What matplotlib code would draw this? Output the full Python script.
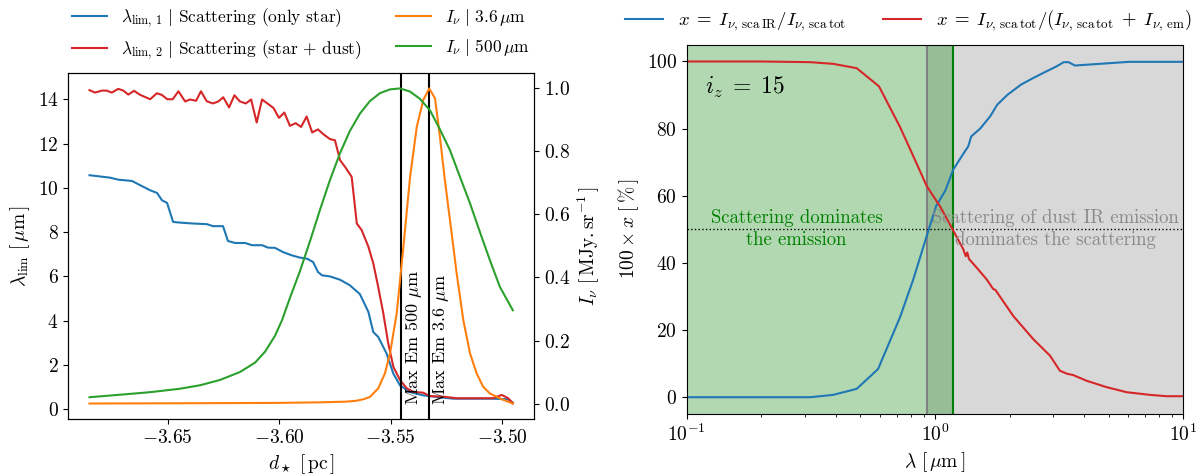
import numpy as np
import matplotlib
matplotlib.use("Agg")
import matplotlib.pyplot as plt
from matplotlib.ticker import MultipleLocator

plt.rcParams.update({
    "font.family": "serif",
    "font.serif": ["cmr10", "DejaVu Serif"],
    "mathtext.fontset": "cm",
    "axes.formatter.use_mathtext": True,
    "font.size": 13,
    "xtick.labelsize": 14,
    "ytick.labelsize": 14,
    "axes.labelsize": 14,
})

# ---- left panel: lambda_lim vs distance to the star ----
d_red = [-3.6851, -3.6826, -3.6796, -3.6774, -3.6751, -3.6722, -3.6699, -3.6677,
         -3.6651, -3.6624, -3.6579, -3.6549, -3.6527, -3.6502, -3.6478, -3.6452,
         -3.6422, -3.6400, -3.6373, -3.6351, -3.6325, -3.6298, -3.6273, -3.6251,
         -3.6225, -3.6201, -3.6176, -3.6150, -3.6126, -3.6101, -3.6077, -3.6053,
         -3.6026, -3.6001, -3.5977, -3.5952, -3.5926, -3.5902, -3.5877, -3.5852,
         -3.5826, -3.5802, -3.5772, -3.5750, -3.5727, -3.5705, -3.5675, -3.5652,
         -3.5630, -3.5600, -3.5578, -3.5556, -3.5533, -3.5511, -3.5488, -3.5458,
         -3.5428, -3.5399, -3.5354, -3.5324, -3.5264, -3.5204, -3.5114, -3.5040,
         -3.5002, -3.4973, -3.4952]
lim2 = [14.41, 14.30, 14.39, 14.39, 14.30, 14.47, 14.39, 14.21,
        14.38, 14.20, 14.00, 14.27, 14.20, 14.00, 14.00, 14.36,
        13.90, 13.99, 13.93, 14.36, 13.91, 13.81, 13.90, 14.09,
        13.63, 14.18, 13.90, 13.81, 13.99, 12.95, 13.99, 13.81,
        13.61, 13.16, 13.40, 12.80, 12.92, 12.75, 13.22, 12.50,
        12.64, 12.42, 12.20, 12.15, 11.25, 10.95, 10.50, 8.39,
        8.09, 7.34, 6.59, 5.53, 4.33, 2.98, 1.92, 1.32,
        0.95, 0.79, 0.75, 0.60, 0.57, 0.50, 0.50, 0.50,
        0.65, 0.50, 0.27]

d_blue = [-3.6851, -3.6759, -3.6723, -3.6660, -3.6624, -3.6579, -3.6548, -3.6526,
          -3.6503, -3.6476, -3.6445, -3.6387, -3.6324, -3.6297, -3.6252, -3.6230,
          -3.6198, -3.6153, -3.6122, -3.6077, -3.6050, -3.6019, -3.5983, -3.5943,
          -3.5907, -3.5875, -3.5848, -3.5826, -3.5808, -3.5772, -3.5727, -3.5683,
          -3.5638, -3.5600, -3.5578, -3.5556, -3.5518, -3.5488, -3.5458, -3.5413,
          -3.5354, -3.5294, -3.5219, -3.5114, -3.5040, -3.4973, -3.4952]
lim1 = [10.57, 10.46, 10.37, 10.31, 10.12, 9.89, 9.77, 9.44,
        9.32, 8.46, 8.43, 8.39, 8.36, 8.27, 8.27, 7.60,
        7.51, 7.51, 7.41, 7.41, 7.30, 7.29, 7.10, 6.95,
        6.85, 6.80, 6.65, 6.20, 6.05, 6.00, 5.85, 5.60,
        5.20, 4.40, 3.49, 3.27, 2.51, 1.61, 1.08, 0.78,
        0.63, 0.56, 0.48, 0.48, 0.48, 0.45, 0.30]

d_orange = [-3.6851, -3.6400, -3.6000, -3.5800, -3.5700, -3.5652, -3.5620, -3.5593,
            -3.5556, -3.5526, -3.5503, -3.5473, -3.5443, -3.5413, -3.5383, -3.5354,
            -3.5327, -3.5301, -3.5279, -3.5257, -3.5234, -3.5204, -3.5174, -3.5144,
            -3.5114, -3.5085, -3.5055, -3.5010, -3.4952]
I_36 = [0.000, 0.001, 0.002, 0.004, 0.006, 0.009, 0.014, 0.021,
        0.048, 0.095, 0.159, 0.286, 0.497, 0.719, 0.878, 0.963,
        1.000, 0.968, 0.846, 0.709, 0.582, 0.413, 0.264, 0.159,
        0.095, 0.053, 0.032, 0.016, 0.000]

d_green = [-3.6851, -3.6713, -3.6579, -3.6445, -3.6355, -3.6265, -3.6176, -3.6108,
           -3.6063, -3.6019, -3.5987, -3.5952, -3.5907, -3.5862, -3.5817, -3.5772,
           -3.5727, -3.5683, -3.5638, -3.5593, -3.5548, -3.5503, -3.5458, -3.5413,
           -3.5369, -3.5324, -3.5279, -3.5234, -3.5189, -3.5144, -3.5100, -3.5055,
           -3.5010, -3.4952]
I_500 = [0.020, 0.028, 0.036, 0.047, 0.058, 0.075, 0.100, 0.130,
         0.165, 0.215, 0.265, 0.335, 0.420, 0.515, 0.615, 0.710,
         0.795, 0.865, 0.920, 0.960, 0.985, 0.997, 1.000, 0.990,
         0.967, 0.931, 0.870, 0.804, 0.719, 0.635, 0.545, 0.455,
         0.370, 0.296]

d_max500 = -3.5452
d_max36 = -3.5327

# ---- right panel: fractions vs wavelength ----
lam_red = [0.10, 0.20, 0.314, 0.389, 0.484, 0.595, 0.723, 0.818, 0.926, 1.047,
           1.168, 1.30, 1.33, 1.35, 1.37, 1.472, 1.615, 1.717, 1.75, 2.067,
           2.488, 2.904, 3.185, 3.40, 3.603, 4.08, 4.91, 5.91, 7.34, 8.58, 10.0]
x_red = [100.0, 100.0, 99.8, 99.3, 98.0, 92.6, 80.5, 71.8, 62.9, 56.9,
         50.5, 44.1, 42.0, 43.1, 41.2, 38.6, 35.1, 32.2, 32.0, 24.2,
         17.3, 12.4, 7.9, 7.0, 6.6, 4.9, 3.0, 1.5, 0.7, 0.3, 0.3]

lam_blue = [0.10, 0.20, 0.314, 0.389, 0.484, 0.59, 0.723, 0.818, 0.926, 1.01,
            1.08, 1.10, 1.185, 1.30, 1.361, 1.40, 1.52, 1.67, 1.78, 1.96,
            2.22, 2.49, 2.80, 3.08, 3.30, 3.45, 3.66, 4.61, 6.07, 10.0]
x_blue = [0.0, 0.0, 0.0, 0.7, 2.5, 8.4, 23.8, 35.1, 48.0, 56.9,
          60.5, 61.5, 67.8, 72.5, 74.7, 77.7, 80.0, 83.7, 87.1, 90.1,
          93.1, 95.1, 97.0, 98.5, 99.8, 99.8, 98.8, 99.3, 99.9, 99.9]

lam_gray = 0.93
lam_green = 1.18
iz = 15

fig = plt.figure(figsize=(12.03, 4.75), dpi=100)
ax = fig.add_axes([0.0568, 0.1173, 0.3871, 0.7297])
ax2 = ax.twinx()

l1, = ax.plot(d_blue, lim1, color="tab:blue", lw=1.5)
l2, = ax.plot(d_red, lim2, color="tab:red", lw=1.5)
l3, = ax2.plot(d_orange, I_36, color="tab:orange", lw=1.5)
l4, = ax2.plot(d_green, I_500, color="tab:green", lw=1.5)

for dl, lab in [(d_max500, r"Max Em 500 $\mu$m"), (d_max36, r"Max Em 3.6 $\mu$m")]:
    ax.axvline(dl, color="k", lw=1.5)
    ax.annotate(lab, xy=(dl, 0.04), xycoords=("data", "axes fraction"),
                xytext=(1.5, 0), textcoords="offset points",
                rotation=90, ha="left", va="bottom", fontsize=13)

ax.set_ylim(-0.45, 15.2)
ax2.set_ylim(-0.05, 1.05)
ax.xaxis.set_major_locator(MultipleLocator(0.05))
ax.set_xlabel(r"$d_\star\ [\,{\rm pc}\,]$")
ax.set_ylabel(r"$\lambda_{\rm lim}\ [\,\mu{\rm m}\,]$")
ax2.set_ylabel(r"$I_\nu\ [\,{\rm MJy.sr^{-1}}\,]$")

fig.legend([l1, l2, l3, l4],
           [r"$\lambda_{{\rm lim},\,1}\ |$ Scattering (only star)",
            r"$\lambda_{{\rm lim},\,2}\ |$ Scattering (star + dust)",
            r"$I_\nu\ |\ 3.6\,\mu{\rm m}$",
            r"$I_\nu\ |\ 500\,\mu{\rm m}$"],
           ncol=2, frameon=False, loc="upper center",
           bbox_to_anchor=(0.25, 1.02), fontsize=12.5)

# right panel
bx = fig.add_axes([0.5708, 0.1284, 0.4128, 0.7775])
bx.axvspan(lam_gray, 10, color="gray", alpha=0.3, lw=0)
bx.axvspan(0.1, lam_green, color="g", alpha=0.3, lw=0)
bx.axvline(lam_gray, color="gray", lw=1.5)
bx.axvline(lam_green, color="g", lw=1.5)
bx.axhline(50, color="k", ls=":", lw=1)

b1, = bx.plot(lam_blue, x_blue, color="tab:blue", lw=1.5)
b2, = bx.plot(lam_red, x_red, color="tab:red", lw=1.5)

bx.set_xscale("log")
bx.set_xlim(0.1, 10)
bx.set_ylim(-5, 105)
bx.set_xlabel(r"$\lambda\ [\,\mu{\rm m}\,]$")
bx.set_ylabel(r"$100\times x\ [\,\%\,]$")

bx.text(0.037, 0.885, r"$i_z\;=\;%d$" % iz, transform=bx.transAxes,
        fontsize=17, va="center", ha="left")
bx.text(0.277, 50, "Scattering dominates\nthe emission", color="green",
        ha="center", va="center", fontsize=13.5, linespacing=1.3)
bx.text(3.05, 50, "Scattering of dust IR emission\ndominates the scattering",
        color="#8a8a8a", ha="center", va="center", fontsize=13.5,
        linespacing=1.3)

fig.legend([b1, b2],
           [r"$x\;=\;I_{\nu,\,{\rm sca\,IR}}/I_{\nu,\,{\rm sca\,tot}}$",
            r"$x\;=\;I_{\nu,\,{\rm sca\,tot}}/(I_{\nu,\,{\rm sca\,tot}}\;+\;I_{\nu,\,{\rm em}})$"],
           ncol=2, frameon=False, loc="upper center",
           bbox_to_anchor=(0.755, 1.02), fontsize=13.5)

fig.savefig("out.png", dpi=100)
